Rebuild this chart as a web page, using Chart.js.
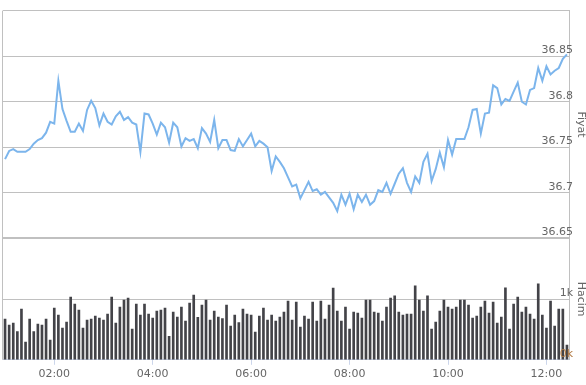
<!DOCTYPE html>
<html>
<head>
<meta charset="utf-8">
<script src="https://cdn.jsdelivr.net/npm/chart.js@4"></script>
<style>
  html, body { margin: 0; padding: 0; background: #fff; }
  #wrap { width: 586px; height: 385px; position: relative; }
</style>
</head>
<body>
<div id="wrap"><canvas id="chart"></canvas></div>
<script>
// 5-minute bars, 01:00 .. 12:25
const startMinute = 60;
const stepMinutes = 5;

const prices = [
    36.737, 36.746, 36.748, 36.745, 36.745, 36.745, 36.748, 36.754, 36.758, 36.760,
    36.766, 36.778, 36.776, 36.823, 36.792, 36.779, 36.767, 36.767, 36.776, 36.768,
    36.791, 36.801, 36.793, 36.774, 36.787, 36.778, 36.775, 36.784, 36.789, 36.780,
    36.783, 36.777, 36.775, 36.745, 36.787, 36.786, 36.776, 36.764, 36.777, 36.772,
    36.755, 36.777, 36.772, 36.751, 36.760, 36.757, 36.759, 36.749, 36.771, 36.765,
    36.756, 36.780, 36.749, 36.758, 36.758, 36.747, 36.746, 36.759, 36.751, 36.758,
    36.765, 36.751, 36.757, 36.754, 36.750, 36.724, 36.740, 36.734, 36.727, 36.717,
    36.707, 36.709, 36.694, 36.703, 36.712, 36.702, 36.704, 36.698, 36.701, 36.695,
    36.689, 36.680, 36.698, 36.687, 36.699, 36.682, 36.698, 36.690, 36.698, 36.687,
    36.691, 36.703, 36.701, 36.711, 36.699, 36.710, 36.721, 36.727, 36.711, 36.701,
    36.718, 36.711, 36.734, 36.743, 36.713, 36.726, 36.744, 36.728, 36.758, 36.742,
    36.759, 36.759, 36.759, 36.772, 36.791, 36.792, 36.765, 36.787, 36.788, 36.818,
    36.815, 36.797, 36.803, 36.801, 36.811, 36.821, 36.800, 36.797, 36.813, 36.815,
    36.837, 36.823, 36.839, 36.830, 36.834, 36.837, 36.847, 36.852
];

const volumes = [
    670, 571, 604, 467, 835, 291, 670, 467, 588, 571,
    670, 324, 852, 736, 522, 621, 1033, 918, 819, 522,
    654, 670, 720, 687, 654, 753, 1033, 604, 868, 984,
    1016, 505, 918, 736, 918, 753, 687, 802, 819, 852,
    385, 786, 703, 868, 637, 934, 1068, 698, 901, 984,
    654, 802, 703, 681, 901, 555, 736, 615, 835, 753,
    736, 456, 720, 852, 654, 736, 637, 703, 786, 967,
    654, 951, 538, 720, 670, 951, 637, 967, 670, 901,
    1181, 802, 637, 868, 505, 786, 769, 687, 984, 984,
    786, 769, 637, 868, 1016, 1055, 786, 736, 753, 753,
    1220, 984, 802, 1055, 505, 621, 802, 984, 868, 835,
    868, 984, 984, 901, 687, 720, 868, 967, 769, 951,
    604, 703, 1187, 505, 918, 1033, 786, 868, 753, 670,
    1253, 736, 522, 967, 555, 835, 835, 242
];

const timeTicks = ['02:00', '04:00', '06:00', '08:00', '10:00', '12:00'];
const priceTicks = [36.65, 36.7, 36.75, 36.8, 36.85, 36.9];
const volumeTicks = [0, 1000, 2000];

// category labels, one per bar
const times = prices.map((p, i) => {
    const m = startMinute + i * stepMinutes;
    return String(Math.floor(m / 60)).padStart(2, '0') + ':' + String(m % 60).padStart(2, '0');
});

const FONT = { family: 'DejaVu Sans', size: 11 };
const GRID = '#c0c0c0';

// left edge of the plot frame
const plotBorder = {
    id: 'plotBorder',
    beforeDatasetsDraw(chart) {
        const { ctx, chartArea } = chart;
        const x = Math.round(chartArea.left) - 0.5;
        ctx.save();
        ctx.strokeStyle = GRID;
        ctx.lineWidth = 1;
        ctx.beginPath();
        ctx.moveTo(x, chartArea.top);
        ctx.lineTo(x, chartArea.bottom);
        ctx.stroke();
        ctx.restore();
    }
};

new Chart(document.getElementById('chart'), {
    type: 'bar',
    data: {
        labels: times,
        datasets: [
            {
                type: 'line',
                label: 'Fiyat',
                data: prices,
                yAxisID: 'y',
                borderColor: '#7cb5ec',
                borderWidth: 2,
                pointRadius: 0,
                tension: 0,
                fill: false
            },
            {
                type: 'bar',
                label: 'Hacim',
                data: volumes,
                yAxisID: 'yv',
                backgroundColor: '#434348',
                barThickness: 2
            }
        ]
    },
    options: {
        responsive: true,
        maintainAspectRatio: false,
        animation: false,
        layout: { padding: { top: 9, left: 3, right: 0, bottom: 1 } },
        plugins: {
            legend: { display: false },
            tooltip: { enabled: false }
        },
        scales: {
            x: {
                offset: true,
                grid: {
                    offset: false,
                    drawOnChartArea: false,
                    drawTicks: true,
                    tickLength: 5,
                    color: ctx => timeTicks.includes(times[ctx.index]) ? '#ccd6eb' : 'rgba(0,0,0,0)'
                },
                border: { color: '#ccd6eb' },
                ticks: {
                    autoSkip: false,
                    maxRotation: 0,
                    padding: 3,
                    color: '#666666',
                    font: FONT,
                    callback: (v, i) => timeTicks.includes(times[i]) ? times[i] : ''
                }
            },
            y: {
                position: 'right',
                stack: 'panels',
                stackWeight: 229,
                min: 36.65,
                max: 36.9,
                afterBuildTicks: s => { s.ticks = priceTicks.map(v => ({ value: v })); },
                afterFit: s => { s.width = 17; },
                grid: { color: GRID, drawTicks: false },
                border: { display: true, color: GRID },
                ticks: {
                    mirror: true,
                    padding: 4,
                    labelOffset: -6,
                    color: '#666666',
                    font: FONT,
                    z: 1,
                    callback: v => v >= 36.9 ? '' : String(Number(v.toFixed(2)))
                },
                title: {
                    display: true,
                    text: 'Fiyat',
                    color: '#666666',
                    font: { family: 'DejaVu Sans', size: 11, lineHeight: 1 },
                    padding: { top: 0, bottom: 0 }
                }
            },
            yv: {
                position: 'right',
                stack: 'panels',
                stackWeight: 122,
                min: 0,
                max: 2000,
                afterBuildTicks: s => { s.ticks = volumeTicks.map(v => ({ value: v })); },
                afterFit: s => { s.width = 17; },
                grid: {
                    drawTicks: false,
                    color: ctx => ctx.tick && ctx.tick.value === 0 ? 'rgba(0,0,0,0)' : GRID,
                    lineWidth: ctx => ctx.tick && ctx.tick.value === 2000 ? 2 : 1
                },
                border: { display: true, color: GRID },
                ticks: {
                    mirror: true,
                    padding: 4,
                    labelOffset: -6,
                    font: FONT,
                    z: 1,
                    color: ctx => ctx.tick && ctx.tick.value === 0 ? '#b07840' : '#666666',
                    callback: v => v >= 2000 ? '' : (v / 1000) + 'k'
                },
                title: {
                    display: true,
                    text: 'Hacim',
                    color: '#666666',
                    font: { family: 'DejaVu Sans', size: 11, lineHeight: 1 },
                    padding: { top: 0, bottom: 0 }
                }
            }
        }
    },
    plugins: [plotBorder]
});
</script>
</body>
</html>
